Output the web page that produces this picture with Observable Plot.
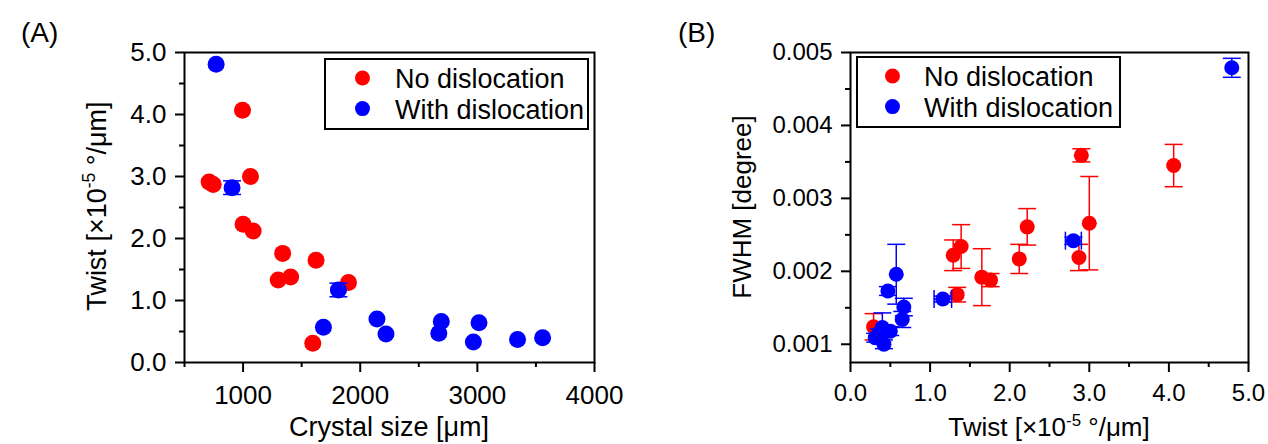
<!DOCTYPE html>
<html><head><meta charset="utf-8">
<script src="https://cdn.jsdelivr.net/npm/d3@7"></script>
<script src="https://cdn.jsdelivr.net/npm/@observablehq/plot@0.6"></script>
<style>
body{margin:0;background:#fff;}
#wrap{position:relative;width:1268px;height:444px;overflow:hidden;}
#a,#b{position:absolute;top:0;}
#a{left:0}#b{left:634px}
</style></head><body><div id="wrap"><div id="a"></div><div id="b"></div></div>
<script>
const FONT = '"Liberation Sans", Arial, sans-serif';
const RED = "#ff0000", BLUE = "#0000ff";
const seriesNames = ["No dislocation", "With dislocation"];

// Panel A: crystal size [µm] vs twist [×10^-5 °/µm]
const aRedSize     = [995, 710, 745, 1063, 1000, 1086, 1338, 1300, 1406, 1623, 1595, 1900];
const aRedTwist    = [4.07, 2.91, 2.87, 3.00, 2.23, 2.12, 1.76, 1.33, 1.38, 1.65, 0.31, 1.29];
const aRedSizeErr  = [50, 50, 50, 50, 50, 50, 50, 50, 50, 50, 50, 50];
const aRedTwistErr = [0.04, 0.04, 0.04, 0.04, 0.04, 0.04, 0.04, 0.04, 0.04, 0.04, 0.04, 0.04];
const aBlueSize     = [770, 906, 1686, 1814, 2143, 2220, 2692, 2671, 3014, 2966, 3343, 3557];
const aBlueTwist    = [4.81, 2.82, 0.57, 1.17, 0.70, 0.46, 0.66, 0.47, 0.64, 0.33, 0.37, 0.40];
const aBlueSizeErr  = [55, 60, 50, 60, 50, 50, 50, 50, 50, 50, 50, 50];
const aBlueTwistErr = [0.03, 0.11, 0.03, 0.11, 0.03, 0.03, 0.03, 0.03, 0.03, 0.03, 0.03, 0.03];

// Panel B: twist vs FWHM [degree]
const bRedTwist    = [4.06, 2.90, 2.87, 3.00, 2.22, 2.12, 1.76, 1.65, 1.39, 1.29, 1.34, 0.29];
const bRedFwhm     = [0.00345, 0.00359, 0.00219, 0.00266, 0.00261, 0.00217, 0.00188, 0.00192, 0.00234, 0.00222, 0.00168, 0.00124];
const bRedFwhmErr  = [0.00029, 0.00009, 0.00018, 0.00064, 0.00025, 0.00020, 0.00009, 0.00039, 0.00030, 0.00021, 0.00010, 0.00018];
const bBlueTwist    = [4.79, 2.80, 1.16, 0.575, 0.47, 0.67, 0.65, 0.40, 0.50, 0.31, 0.42, 0.36];
const bBlueFwhm     = [0.00479, 0.00242, 0.00162, 0.00196, 0.00173, 0.00151, 0.00134, 0.00123, 0.00118, 0.00109, 0.00100, 0.00115];
const bBlueTwistErr = [0, 0.10, 0.11, 0, 0, 0, 0, 0, 0, 0, 0, 0];
const bBlueFwhmErr  = [0.00013, 0.00005, 0.00004, 0.00041, 0.00006, 0.00012, 0.00011, 0.00020, 0.00006, 0.00006, 0.00006, 0.00006];

// tick values
const aXTicks = [1000, 2000, 3000, 4000], aXMinor = [500, 1500, 2500, 3500];
const aYTicks = [0, 1, 2, 3, 4, 5], aYMinor = [0.5, 1.5, 2.5, 3.5, 4.5];
const bXTicks = [0, 1, 2, 3, 4, 5], bXMinor = [0.5, 1.5, 2.5, 3.5, 4.5];
const bYTicks = [0.001, 0.002, 0.003, 0.004, 0.005], bYMinor = [0.0015, 0.0025, 0.0035, 0.0045];

function rows(xs, ys, xe, ye) {
  return xs.map((x, i) => ({x, y: ys[i], xe: xe ? xe[i] : 0, ye: ye ? ye[i] : 0}));
}
const hCap = {draw(ctx, size){const w = Math.sqrt(size/Math.PI); ctx.moveTo(-w,0); ctx.lineTo(w,0);}};
const vCap = {draw(ctx, size){const w = Math.sqrt(size/Math.PI); ctx.moveTo(0,-w); ctx.lineTo(0,w);}};

// xCap: half-length of caps on horizontal bars; yCap: on vertical bars (pixels)
function errMarks(data, color, xCap, yCap) {
  const hx = data.filter(d => d.xe > 0), vy = data.filter(d => d.ye > 0);
  const o = {stroke: color, strokeWidth: 1.5};
  return [
    Plot.ruleY(hx, {y: "y", x1: d => d.x - d.xe, x2: d => d.x + d.xe, ...o}),
    Plot.ruleX(vy, {x: "x", y1: d => d.y - d.ye, y2: d => d.y + d.ye, ...o}),
    Plot.dot(hx, {x: d => d.x - d.xe, y: "y", symbol: vCap, r: xCap, fill: "none", ...o}),
    Plot.dot(hx, {x: d => d.x + d.xe, y: "y", symbol: vCap, r: xCap, fill: "none", ...o}),
    Plot.dot(vy, {x: "x", y: d => d.y - d.ye, symbol: hCap, r: yCap, fill: "none", ...o}),
    Plot.dot(vy, {x: "x", y: d => d.y + d.ye, symbol: hCap, r: yCap, fill: "none", ...o})
  ];
}

function axes(xT, xM, yT, yM, xf, yf, xPad, fs) {
  const c = {strokeWidth: 2, label: null, fontSize: fs};
  return [
    Plot.axisX({ticks: xT, tickFormat: xf, tickSize: 10, tickPadding: xPad, ...c}),
    Plot.axisX({ticks: xM, tickFormat: () => "", tickSize: 5, ...c}),
    Plot.axisY({ticks: yT, tickFormat: yf, tickSize: 9, tickPadding: 9, ...c}),
    Plot.axisY({ticks: yM, tickFormat: () => "", tickSize: 5, ...c})
  ];
}

function legend(svg, x0, y0, w, h, dotX, textX) {
  const g = svg.append("g").attr("text-anchor", "start");
  g.append("rect").attr("x", x0).attr("y", y0).attr("width", w).attr("height", h)
    .attr("fill", "white").attr("stroke", "black").attr("stroke-width", 2);
  [[RED, seriesNames[0], 0], [BLUE, seriesNames[1], 1]].forEach(([c, t, i]) => {
    const cy = y0 + 19 + i * 30.6;
    g.append("circle").attr("cx", dotX).attr("cy", cy).attr("r", 7.5).attr("fill", c);
    g.append("text").attr("x", textX).attr("y", cy + 10).attr("font-size", 27).attr("text-anchor", "start")
      .attr("font-family", FONT).attr("fill", "black").text(t);
  });
}

function twistLabel(sel, fs) {
  sel.append("tspan").text("Twist [×10");
  sel.append("tspan").attr("dy", -fs * 0.4).attr("font-size", fs * 0.65).text("-5");
  sel.append("tspan").attr("dy", fs * 0.4).text(" °/μm]");
}

// ---- Panel A ----
const aRed = rows(aRedSize, aRedTwist, aRedSizeErr, aRedTwistErr);
const aBlue = rows(aBlueSize, aBlueTwist, aBlueSizeErr, aBlueTwistErr);
const bigY = d => d.ye > 0.05;
const plotA = Plot.plot({
  width: 634, height: 444, marginTop: 52, marginBottom: 82, marginLeft: 184, marginRight: 40,
  style: {fontFamily: FONT, fontSize: "26px", color: "black", background: "white"},
  x: {domain: [500, 4000], label: null},
  y: {domain: [0, 5], label: null},
  marks: [
    ...axes(aXTicks, aXMinor, aYTicks, aYMinor, d => String(d), d3.format(".1f"), 13, 26),
    ...errMarks(aRed, RED, 3, 3),
    Plot.dot(aRed, {x: "x", y: "y", r: 8.5, fill: RED}),
    ...errMarks(aBlue.filter(d => !bigY(d)), BLUE, 3, 3),
    ...errMarks(aBlue.filter(bigY), BLUE, 3, 9),
    Plot.dot(aBlue, {x: "x", y: "y", r: 8.5, fill: BLUE}),
    Plot.frame({stroke: "black", strokeWidth: 2})
  ]
});
document.getElementById("a").appendChild(plotA);
{
  const svg = d3.select(plotA);
  svg.append("text").attr("x", 21).attr("y", 42).attr("text-anchor", "start").attr("font-size", 28).attr("font-family", FONT).text("(A)");
  svg.append("text").attr("x", 389).attr("y", 436).attr("text-anchor", "middle").attr("font-size", 27)
    .attr("font-family", FONT).text("Crystal size [μm]");
  const yl = svg.append("text").attr("transform", "translate(106,206) rotate(-90)")
    .attr("text-anchor", "middle").attr("font-size", 27).attr("font-family", FONT);
  twistLabel(yl, 27);
  legend(svg, 325, 59, 263, 70, 362.5, 395);
}

// ---- Panel B ----
const bRed = rows(bRedTwist, bRedFwhm, null, bRedFwhmErr);
const bBlue = rows(bBlueTwist, bBlueFwhm, bBlueTwistErr, bBlueFwhmErr);
const plotB = Plot.plot({
  width: 634, height: 444, marginTop: 52, marginBottom: 82, marginLeft: 216, marginRight: 20,
  style: {fontFamily: FONT, fontSize: "24px", color: "black", background: "white"},
  x: {domain: [0, 5], label: null},
  y: {domain: [0.00075, 0.005], label: null},
  marks: [
    ...axes(bXTicks, bXMinor, bYTicks, bYMinor, d3.format(".1f"), d3.format(".3f"), 11, 24),
    ...errMarks(bRed, RED, 9, 9),
    Plot.dot(bRed, {x: "x", y: "y", r: 7.5, fill: RED}),
    ...errMarks(bBlue, BLUE, 9, 9),
    Plot.dot(bBlue, {x: "x", y: "y", r: 7.5, fill: BLUE}),
    Plot.frame({stroke: "black", strokeWidth: 2})
  ]
});
document.getElementById("b").appendChild(plotB);
{
  const svg = d3.select(plotB);
  svg.append("text").attr("x", 44).attr("y", 42).attr("text-anchor", "start").attr("font-size", 28).attr("font-family", FONT).text("(B)");
  const xl = svg.append("text").attr("x", 415).attr("y", 436).attr("text-anchor", "middle")
    .attr("font-size", 26).attr("font-family", FONT);
  twistLabel(xl, 26);
  svg.append("text").attr("transform", "translate(117,207) rotate(-90)").attr("text-anchor", "middle")
    .attr("font-size", 26).attr("font-family", FONT).text("FWHM [degree]");
  legend(svg, 223, 57, 263, 70, 258.5, 290);
}
</script></body></html>
